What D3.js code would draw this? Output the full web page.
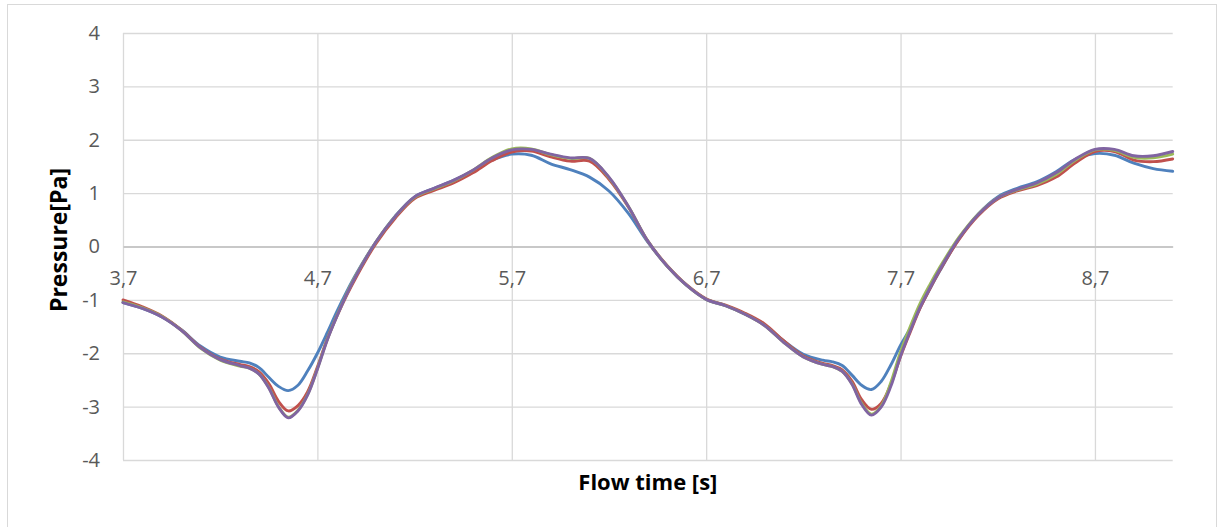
<!DOCTYPE html>
<html>
<head>
<meta charset="utf-8">
<script src="https://cdn.jsdelivr.net/npm/d3@7"></script>
<style>
  body { margin: 0; background: #fff; }
  svg { display: block; }
</style>
</head>
<body>
<div id="chart"></div>
<script>
// flow time samples [s], shared by all series
const flowTime = [
  3.7, 3.8, 3.9, 4.0, 4.1, 4.2, 4.3, 4.35, 4.4, 4.45, 4.5, 4.55, 4.6, 4.65, 4.7, 4.75, 4.8, 4.85, 4.9,
  5.0, 5.1, 5.2, 5.3, 5.4, 5.5, 5.6, 5.7, 5.8, 5.9, 6.0, 6.1, 6.2, 6.3, 6.4, 6.5, 6.6, 6.7, 6.8, 6.9,
  7.0, 7.1, 7.2, 7.3, 7.35, 7.4, 7.45, 7.5, 7.55, 7.6, 7.65, 7.7, 7.75, 7.8, 7.85, 7.9,
  8.0, 8.1, 8.2, 8.3, 8.4, 8.5, 8.6, 8.7, 8.8, 8.9, 9.0, 9.1
];

// pressure [Pa], one array per series
const seriesBlue = [
  -1.05, -1.16, -1.32, -1.56, -1.87, -2.07, -2.15, -2.18, -2.27, -2.45, -2.62, -2.70, -2.60, -2.33, -2.00, -1.62, -1.22, -0.85, -0.51,
  0.08, 0.57, 0.93, 1.09, 1.24, 1.42, 1.62, 1.73, 1.71, 1.55, 1.44, 1.30, 1.04, 0.62, 0.08, -0.37, -0.73, -0.99, -1.11, -1.27,
  -1.47, -1.77, -2.02, -2.13, -2.16, -2.23, -2.41, -2.60, -2.68, -2.53, -2.22, -1.85, -1.53, -1.15, -0.80, -0.47,
  0.14, 0.61, 0.93, 1.09, 1.21, 1.40, 1.64, 1.74, 1.71, 1.56, 1.46, 1.41
];
const seriesRed = [
  -1.00, -1.13, -1.30, -1.56, -1.89, -2.11, -2.21, -2.25, -2.35, -2.57, -2.90, -3.08, -2.98, -2.72, -2.26, -1.74, -1.31, -0.92, -0.57,
  0.05, 0.53, 0.90, 1.05, 1.19, 1.38, 1.61, 1.77, 1.79, 1.68, 1.60, 1.60, 1.26, 0.74, 0.10, -0.36, -0.72, -0.98, -1.10, -1.25,
  -1.45, -1.77, -2.05, -2.19, -2.23, -2.31, -2.52, -2.87, -3.05, -2.94, -2.58, -2.06, -1.60, -1.16, -0.80, -0.46,
  0.13, 0.58, 0.89, 1.04, 1.14, 1.30, 1.57, 1.78, 1.78, 1.62, 1.59, 1.64
];
const seriesGreen = [
  -1.04, -1.15, -1.31, -1.57, -1.91, -2.13, -2.24, -2.28, -2.39, -2.64, -3.00, -3.20, -3.07, -2.77, -2.29, -1.75, -1.30, -0.89, -0.53,
  0.08, 0.56, 0.92, 1.08, 1.23, 1.43, 1.67, 1.83, 1.83, 1.72, 1.65, 1.65, 1.29, 0.75, 0.10, -0.37, -0.73, -0.99, -1.11, -1.27,
  -1.48, -1.80, -2.07, -2.21, -2.25, -2.34, -2.57, -2.94, -3.14, -2.99, -2.55, -1.97, -1.50, -1.07, -0.72, -0.40,
  0.17, 0.61, 0.91, 1.06, 1.17, 1.35, 1.62, 1.81, 1.80, 1.67, 1.66, 1.73
];
const seriesPurple = [
  -1.05, -1.16, -1.32, -1.57, -1.90, -2.12, -2.23, -2.28, -2.39, -2.65, -3.01, -3.21, -3.08, -2.78, -2.30, -1.76, -1.31, -0.90, -0.54,
  0.08, 0.56, 0.93, 1.09, 1.24, 1.43, 1.66, 1.81, 1.82, 1.73, 1.66, 1.65, 1.30, 0.75, 0.10, -0.37, -0.73, -0.99, -1.11, -1.27,
  -1.48, -1.80, -2.07, -2.21, -2.25, -2.34, -2.58, -2.96, -3.16, -3.01, -2.62, -2.05, -1.58, -1.14, -0.78, -0.44,
  0.15, 0.60, 0.91, 1.07, 1.19, 1.38, 1.64, 1.82, 1.82, 1.70, 1.70, 1.78
];

const xTicks = [3.7, 4.7, 5.7, 6.7, 7.7, 8.7];
const yTicks = [-4, -3, -2, -1, 0, 1, 2, 3, 4];

const series = [
  { name: "blue", values: seriesBlue, color: "#4f81bd" },
  { name: "red", values: seriesRed, color: "#c0504d" },
  { name: "green", values: seriesGreen, color: "#9bbb59" },
  { name: "purple", values: seriesPurple, color: "#8064a2" }
];

const width = 1227, height = 527;
const plot = { left: 123, right: 1172.7, top: 33, bottom: 460 };

// comma as decimal separator, plain hyphen for negatives
const locale = d3.formatLocale({ decimal: ",", thousands: ".", grouping: [3], currency: ["", ""], minus: "-" });
const fmtX = locale.format(".1f");
const fmtY = locale.format("d");

const svg = d3.select("#chart").append("svg")
  .attr("width", width)
  .attr("height", height);

svg.append("rect")
  .attr("width", width).attr("height", height)
  .attr("fill", "#fff");

// chart area border
svg.append("rect")
  .attr("x", 7.5).attr("y", 4.5)
  .attr("width", 1209).attr("height", 540)
  .attr("fill", "none")
  .attr("stroke", "#d9d9d9")
  .attr("stroke-width", 1);

const x = d3.scaleLinear().domain([3.7, 9.1]).range([plot.left, plot.right]);
const y = d3.scaleLinear().domain([-4, 4]).range([plot.bottom, plot.top]);

// horizontal gridlines
svg.append("g")
  .attr("transform", `translate(${plot.left},0)`)
  .call(d3.axisLeft(y).tickValues(yTicks).tickSize(-(plot.right - plot.left)).tickFormat(""))
  .call(g => g.select(".domain").remove())
  .call(g => g.selectAll(".tick line").attr("stroke", "#d9d9d9").attr("stroke-width", 1.3));

// vertical gridlines
svg.append("g")
  .attr("transform", `translate(0,${plot.bottom})`)
  .call(d3.axisBottom(x).tickValues(xTicks).tickSize(-(plot.bottom - plot.top)).tickFormat(""))
  .call(g => g.select(".domain").remove())
  .call(g => g.selectAll(".tick line").attr("stroke", "#d9d9d9").attr("stroke-width", 1.3));

// y tick labels
svg.append("g")
  .attr("transform", `translate(${plot.left},0)`)
  .call(d3.axisLeft(y).tickValues(yTicks).tickSize(0).tickPadding(23).tickFormat(fmtY))
  .call(g => g.select(".domain").remove())
  .call(g => g.selectAll("text")
    .attr("fill", "#595959")
    .style("font-family", "'Open Sans', sans-serif")
    .style("font-size", "20px"));

// x axis crosses at zero
svg.append("g")
  .attr("transform", `translate(0,${y(0)})`)
  .call(d3.axisBottom(x).tickValues(xTicks).tickSize(0).tickPadding(24).tickFormat(fmtX))
  .call(g => g.select(".domain").attr("stroke", "#bfbfbf").attr("stroke-width", 1.3))
  .call(g => g.selectAll("text")
    .attr("fill", "#595959")
    .style("font-family", "'Open Sans', sans-serif")
    .style("font-size", "20px"));

// lines
const line = d3.line()
  .x((d, i) => x(flowTime[i]))
  .y(d => y(d))
  .curve(d3.curveCatmullRom.alpha(0.5));

svg.append("g")
  .selectAll("path")
  .data(series)
  .join("path")
  .attr("d", d => line(d.values))
  .attr("fill", "none")
  .attr("stroke", d => d.color)
  .attr("stroke-width", 2.9)
  .attr("stroke-linejoin", "round")
  .attr("stroke-linecap", "round");

// axis titles
svg.append("text")
  .attr("x", (plot.left + plot.right) / 2)
  .attr("y", 490)
  .attr("text-anchor", "middle")
  .style("font-family", "'Open Sans', sans-serif")
  .style("font-size", "22px")
  .style("font-weight", "bold")
  .attr("fill", "#000")
  .text("Flow time [s]");

svg.append("text")
  .attr("transform", "translate(67,240) rotate(-90)")
  .attr("text-anchor", "middle")
  .style("font-family", "'Open Sans', sans-serif")
  .style("font-size", "23px")
  .style("font-weight", "bold")
  .attr("fill", "#000")
  .text("Pressure[Pa]");
</script>
</body>
</html>
